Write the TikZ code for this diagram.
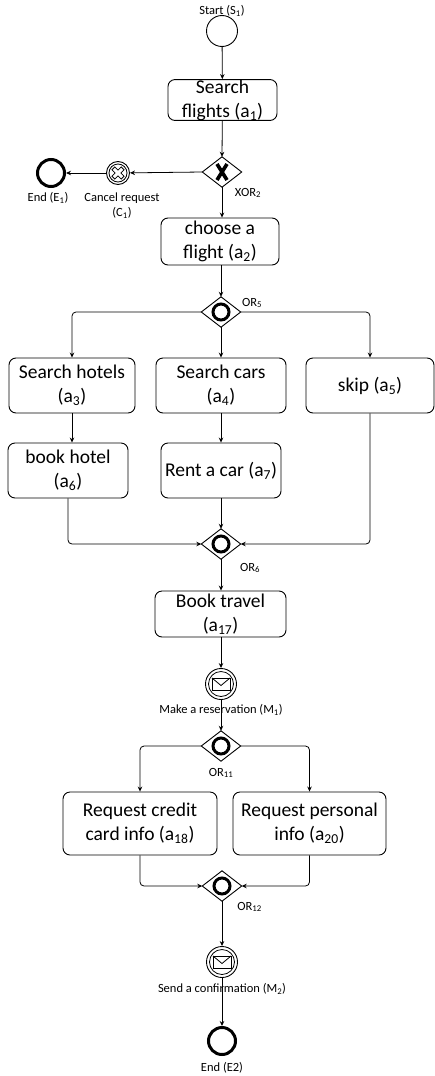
\documentclass[tikz,border=0pt]{standalone}
\usepackage{fontspec}
\setmainfont{Carlito}
\usetikzlibrary{arrows.meta,calc}
\newcommand{\sub}[1]{\textsubscript{#1}}
\begin{document}
\begin{tikzpicture}[x=1pt,y=-1pt,
  every node/.style={font=\fontsize{19.5}{24}\selectfont},
  task/.style={draw, rounded corners=7pt, line width=0.9pt, align=center, inner sep=0pt},
  lbl/.style={font=\fontsize{12.5}{15}\selectfont, inner sep=0pt, align=center},
  gw/.style={minimum width=39pt, minimum height=30pt, inner sep=0pt},
  gwshape/.style={draw, line width=0.9pt, fill=white},
  ormark/.style={draw, line width=3pt},
  startev/.style={circle, draw, line width=0.9pt, minimum size=31pt, inner sep=0pt},
  endev/.style={circle, draw, line width=3pt, minimum size=27pt, inner sep=0pt},
  msgev/.style={circle, draw, line width=0.9pt, minimum size=31pt, inner sep=0pt},
  flow/.style={line width=0.8pt, -{Stealth[length=5pt,width=4.5pt]}, rounded corners=4pt},
]
\useasboundingbox (0,0) rectangle (435,1076);

% events
\node[startev] (s1) at (222,31) {};
\node[lbl] (s1l) at (222,11) {Start (S\sub{1})};

% tasks
\node[task, minimum width=109pt, minimum height=40pt] (a1) at (222.5,100) {Search\\flights (a\sub{1})};
\node[task, minimum width=118pt, minimum height=47pt] (a2) at (220,241.5) {choose a\\flight (a\sub{2})};
\node[task, minimum width=126pt, minimum height=55pt] (a3) at (72,385.5) {Search hotels\\(a\sub{3})};
\node[task, minimum width=130pt, minimum height=55pt] (a4) at (221,385.5) {Search cars\\(a\sub{4})};
\node[task, minimum width=128pt, minimum height=55pt] (a5) at (370,385.5) {skip (a\sub{5})};
\node[task, minimum width=120pt, minimum height=55pt] (a6) at (68,470.5) {book hotel\\(a\sub{6})};
\node[task, minimum width=120pt, minimum height=55pt] (a7) at (221,470.5) {Rent a car (a\sub{7})};
\node[task, minimum width=131pt, minimum height=46pt] (a17) at (220.5,614) {Book travel\\(a\sub{17})};
\node[task, minimum width=154pt, minimum height=63pt] (a18) at (140,823.5) {Request credit\\card info (a\sub{18})};
\node[task, minimum width=153pt, minimum height=63pt] (a20) at (309.5,823.5) {Request personal\\info (a\sub{20})};

% gateways
\node[gw] (xor2) at (222,172) {};
\node[gw] (or5) at (221,312) {};
\node[gw] (or6) at (221,544) {};
\node[gw] (or11) at (221,746) {};
\node[gw] (or12) at (222,886) {};
\foreach \g in {xor2,or5,or6,or11,or12}{
  \draw[gwshape] (\g.north) -- (\g.east) -- (\g.south) -- (\g.west) -- cycle;
}
\draw[line width=3.6pt] ($(xor2.center)+(-5,-8)$) -- ($(xor2.center)+(5,8)$);
\draw[line width=3.6pt] ($(xor2.center)+(-5,8)$) -- ($(xor2.center)+(5,-8)$);
\foreach \g in {or5,or6,or11,or12}{
  \draw[ormark] (\g.center) circle[radius=8];
}
\node[lbl] (xor2l) at (248,193) {XOR\sub{2}};
\node[lbl] (or5l) at (252,303) {OR\sub{5}};
\node[lbl] (or6l) at (250,568) {OR\sub{6}};
\node[lbl] (or11l) at (221,773) {OR\sub{11}};
\node[lbl] (or12l) at (249.5,907) {OR\sub{12}};

% cancel and end E1
\node[circle, draw, line width=0.9pt, minimum size=23pt, inner sep=0pt] (c1) at (118,173) {};
\draw[line width=0.8pt] (c1.center) circle[radius=9];
\begin{scope}[shift={(c1.center)}, rotate=45]
  \draw[line width=0.8pt] (2,2) -- (2,6.5) -- (-2,6.5) -- (-2,2) -- (-6.5,2) -- (-6.5,-2) -- (-2,-2) -- (-2,-6.5) -- (2,-6.5) -- (2,-2) -- (6.5,-2) -- (6.5,2) -- cycle;
\end{scope}
\node[lbl] (c1l) at (122,205.5) {Cancel request\\(C\sub{1})};
\node[endev] (e1) at (51,173) {};
\node[lbl] (e1l) at (48,198) {End (E\sub{1})};

% message events
\node[msgev] (m1) at (221,684) {};
\node[msgev] (m2) at (222,962) {};
\foreach \m in {m1,m2}{
  \draw[line width=0.8pt] (\m.center) circle[radius=12.5];
  \draw[line width=0.8pt] ($(\m.center)+(-9,-6)$) rectangle ($(\m.center)+(9,6)$);
  \draw[line width=0.8pt] ($(\m.center)+(-9,-6)$) -- ($(\m.center)+(0,1.5)$) -- ($(\m.center)+(9,-6)$);
}
\node[lbl] (m1l) at (221,710) {Make a reservation (M\sub{1})};
\node[lbl] (m2l) at (222,989) {Send a confirmation (M\sub{2})};

\node[endev] (e2) at (222,1041) {};
\node[lbl] (e2l) at (222,1068) {End (E2)};

% flows
\draw[flow] (s1) -- (a1);
\draw[flow] (a1) -- (xor2.north);
\draw[flow] (xor2.west) -- (c1);
\draw[flow] (c1) -- (e1);
\draw[flow] (xor2.south) -- (xor2.south |- a2.north);
\draw[flow] (a2.south -| or5.north) -- (or5.north);
\draw[flow] (or5.west) -| (a3.north);
\draw[flow] (or5.south) -- (a4.north);
\draw[flow] (or5.east) -| (a5.north);
\draw[flow] (a3.south) -- (a3.south |- a6.north);
\draw[flow] (a4.south) -- (a7.north);
\draw[flow] (a6.south) |- (or6.west);
\draw[flow] (a7.south) -- (or6.north);
\draw[flow] (a5.south) |- (or6.east);
\draw[flow] (or6.south) -- (or6.south |- a17.north);
\draw[flow] (a17.south -| m1.north) -- (m1);
\draw[flow] (m1) -- (or11.north);
\draw[flow] (or11.west) -| (a18.north);
\draw[flow] (or11.east) -| (a20.north);
\draw[flow] (a18.south) |- (or12.west);
\draw[flow] (a20.south) |- (or12.east);
\draw[flow] (or12.south) -- (m2);
\draw[flow] (m2) -- (e2);
\end{tikzpicture}
\end{document}
